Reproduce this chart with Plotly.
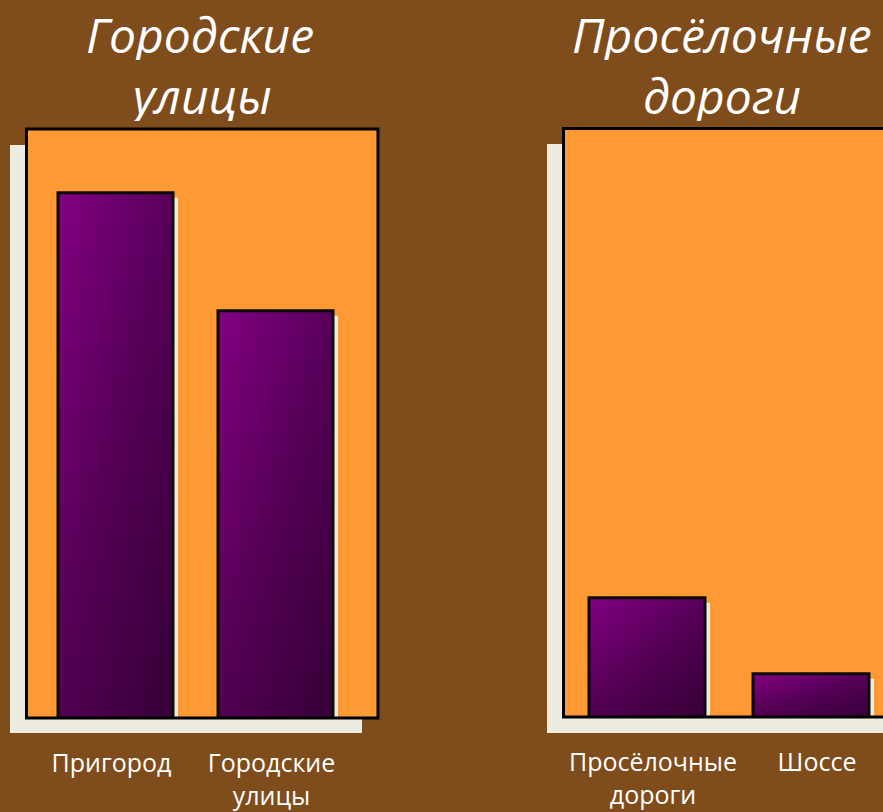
import plotly.graph_objects as go

# ---- data ----
cats_left = ["Пригород", "Городские<br>улицы"]
vals_left = [89.2, 69.2]
cats_right = ["Просёлочные<br>дороги", "Шоссе"]
vals_right = [20.4, 7.5]
title_left = ["Городские", "улицы"]
title_right = ["Просёлочные", "дороги"]

W, H = 883, 812
BG = "#7F4C1B"
ORANGE = "#FF9933"
CREAM = "#EEECE1"
FONT = "Open Sans"


def px(x):
    return x / W


def py(y):
    return 1 - y / H


fig = go.Figure()

# panel geometry in pixels
panels = [
    dict(xa="x", ya="y", cats=cats_left, vals=vals_left,
         left=26.5, right=378, top=129, bottom=719, border_bottom=718,
         c0=115.5, unit=160.0, barw=115 / 160.0, lshift=-4,
         sh=(10, 145, 362, 733)),
    dict(xa="x2", ya="y2", cats=cats_right, vals=vals_right,
         left=563.5, right=883, top=128.5, bottom=718, border_bottom=717,
         c0=647.0, unit=164.0, barw=116 / 164.0, lshift=6,
         sh=(547, 144, 900, 733)),
]

NH = 16
NV = 16
top_c = (128, 0, 128)
right_c = (88, 0, 90)
alpha_v = 1 - 0.68 ** (1.0 / NV)

for p in panels:
    ypx_per_unit = (p["bottom"] - p["top"]) / 100.0
    w = p["barw"]
    # bar shadow
    fig.add_trace(go.Bar(
        x=p["cats"], y=p["vals"], base=[-5 / ypx_per_unit] * 2,
        width=w, offset=-w / 2 + 5 / p["unit"],
        marker=dict(color=CREAM, line=dict(width=0)),
        xaxis=p["xa"], yaxis=p["ya"], cliponaxis=False, hoverinfo="skip",
        showlegend=False))
    # horizontal gradient
    for k in range(NH):
        t = k / (NH - 1)
        col = tuple(round(top_c[i] + (right_c[i] - top_c[i]) * t) for i in range(3))
        fig.add_trace(go.Bar(
            x=p["cats"], y=p["vals"],
            width=w - k * w / NH, offset=-w / 2 + k * w / NH,
            marker=dict(color="rgb(%d,%d,%d)" % col, line=dict(width=0)),
            xaxis=p["xa"], yaxis=p["ya"], cliponaxis=False, hoverinfo="skip",
            showlegend=False))
    # vertical darkening toward the bottom
    for k in range(1, NV + 1):
        frac = 1 - k / (NV + 1)
        fig.add_trace(go.Bar(
            x=p["cats"], y=[v * frac for v in p["vals"]],
            width=w, offset=-w / 2,
            marker=dict(color="rgba(10,0,20,%.4f)" % alpha_v, line=dict(width=0)),
            xaxis=p["xa"], yaxis=p["ya"], cliponaxis=False, hoverinfo="skip",
            showlegend=False))
    # outline
    fig.add_trace(go.Bar(
        x=p["cats"], y=p["vals"], width=w, offset=-w / 2,
        marker=dict(color="rgba(0,0,0,0)", line=dict(width=3, color="#0A0A0A")),
        xaxis=p["xa"], yaxis=p["ya"], cliponaxis=False, hoverinfo="skip",
        showlegend=False))

shapes = []
for p in panels:
    x0, y0, x1, y1 = p["sh"]
    shapes.append(dict(type="rect", xref="paper", yref="paper",
                       x0=px(x0), x1=px(x1), y0=py(y1), y1=py(y0),
                       fillcolor=CREAM, line=dict(width=0), layer="below"))
    rx1 = p["right"] if p["right"] < W else W + 20
    shapes.append(dict(type="rect", xref="paper", yref="paper",
                       x0=px(p["left"]), x1=px(rx1), y0=py(p["border_bottom"]), y1=py(p["top"]),
                       fillcolor=ORANGE, line=dict(width=0), layer="below"))
    shapes.append(dict(type="rect", xref="paper", yref="paper",
                       x0=px(p["left"]), x1=px(rx1), y0=py(p["border_bottom"]), y1=py(p["top"]),
                       fillcolor="rgba(0,0,0,0)", line=dict(width=3, color="#000000"),
                       layer="above"))

annotations = []
for lines, cx in ((title_left, 200), (title_right, 722)):
    for i, txt in enumerate(lines):
        annotations.append(dict(
            text=txt, xref="paper", yref="paper", x=px(cx), y=py(34 + 61 * i),
            xanchor="center", yanchor="middle", showarrow=False, height=52,
            valign="middle",
            font=dict(family=FONT, size=48, color="white", style="italic")))

def xaxis_cfg(p):
    return dict(domain=[px(p["left"]), min(1.0, px(p["right"]))],
                range=[(p["left"] - p["c0"]) / p["unit"], (p["right"] - p["c0"]) / p["unit"]],
                type="category", showgrid=False, zeroline=False, showline=False,
                ticks="outside", ticklen=22, tickcolor="rgba(0,0,0,0)",
                ticklabelshift=p["lshift"],
                tickfont=dict(family=FONT, size=25, color="white"),
                fixedrange=True, automargin=False)

def yaxis_cfg(p, anchor):
    return dict(domain=[py(p["bottom"]), py(p["top"])], range=[0, 100],
                showgrid=False, zeroline=False, showline=False, showticklabels=False,
                ticks="", anchor=anchor, fixedrange=True, automargin=False)

fig.update_layout(
    width=W, height=H, margin=dict(l=0, r=0, t=0, b=0),
    paper_bgcolor=BG, plot_bgcolor="rgba(0,0,0,0)",
    barmode="overlay", showlegend=False,
    xaxis=dict(**xaxis_cfg(panels[0]), anchor="y"),
    yaxis=yaxis_cfg(panels[0], "x"),
    xaxis2=dict(**xaxis_cfg(panels[1]), anchor="y2"),
    yaxis2=yaxis_cfg(panels[1], "x2"),
    shapes=shapes, annotations=annotations,
)

fig.write_html("out.html", config={"displayModeBar": False},
               post_script="document.body.style.margin='0';document.body.style.overflow='hidden';")
